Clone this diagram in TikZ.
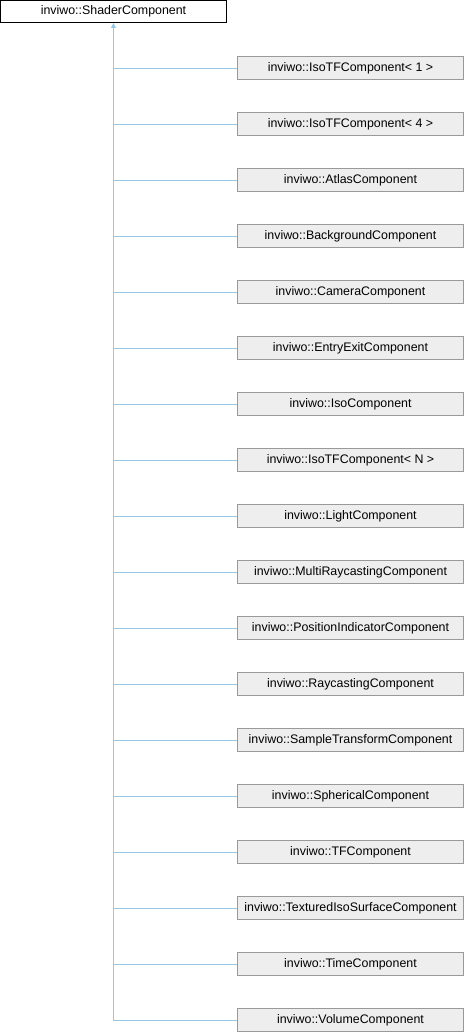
\documentclass[tikz,border=0pt]{standalone}
\usepackage{fontspec}
\setmainfont{Liberation Sans}
\usetikzlibrary{arrows.meta}
\definecolor{edgeblue}{RGB}{150,200,228}
\definecolor{boxfill}{RGB}{238,238,238}
\definecolor{boxline}{RGB}{153,153,153}
\tikzset{
  basebox/.style={draw=black, fill=white, line width=1pt, minimum width=226pt, minimum height=22pt, inner sep=0pt, font=\fontsize{12.4}{14}\selectfont, text=black},
  childbox/.style={draw=boxline, fill=boxfill, line width=1pt, minimum width=226pt, minimum height=23pt, inner sep=0pt, font=\fontsize{12.4}{14}\selectfont, text=black},
  connline/.style={draw=edgeblue, line width=1pt}
}
\begin{document}
\begin{tikzpicture}[x=1pt,y=-1pt]
\useasboundingbox (0,0) rectangle (464,1032);
\node[basebox] (base) at (113.5,11.5) {inviwo::ShaderComponent};
\foreach \i/\t in {1/{inviwo::IsoTFComponent< 1 >},
                   2/{inviwo::IsoTFComponent< 4 >},
                   3/{inviwo::AtlasComponent},
                   4/{inviwo::BackgroundComponent},
                   5/{inviwo::CameraComponent},
                   6/{inviwo::EntryExitComponent},
                   7/{inviwo::IsoComponent},
                   8/{inviwo::IsoTFComponent< N >},
                   9/{inviwo::LightComponent},
                   10/{inviwo::MultiRaycastingComponent},
                   11/{inviwo::PositionIndicatorComponent},
                   12/{inviwo::RaycastingComponent},
                   13/{inviwo::SampleTransformComponent},
                   14/{inviwo::SphericalComponent},
                   15/{inviwo::TFComponent},
                   16/{inviwo::TexturedIsoSurfaceComponent},
                   17/{inviwo::TimeComponent},
                   18/{inviwo::VolumeComponent}} {
  \node[childbox] (c\i) at (350.5,{68+(\i-1)*56}) {\t};
  \coordinate (j\i) at ([yshift=-0.5pt]c\i.west);
  \draw[connline] (j\i) -- (j\i -| base.south);
}
\coordinate (trunkend) at (j18 -| base.south);
\draw[connline, -{Triangle[width=5pt,length=5pt]}] (trunkend) -- (base.south);
\end{tikzpicture}
\end{document}
